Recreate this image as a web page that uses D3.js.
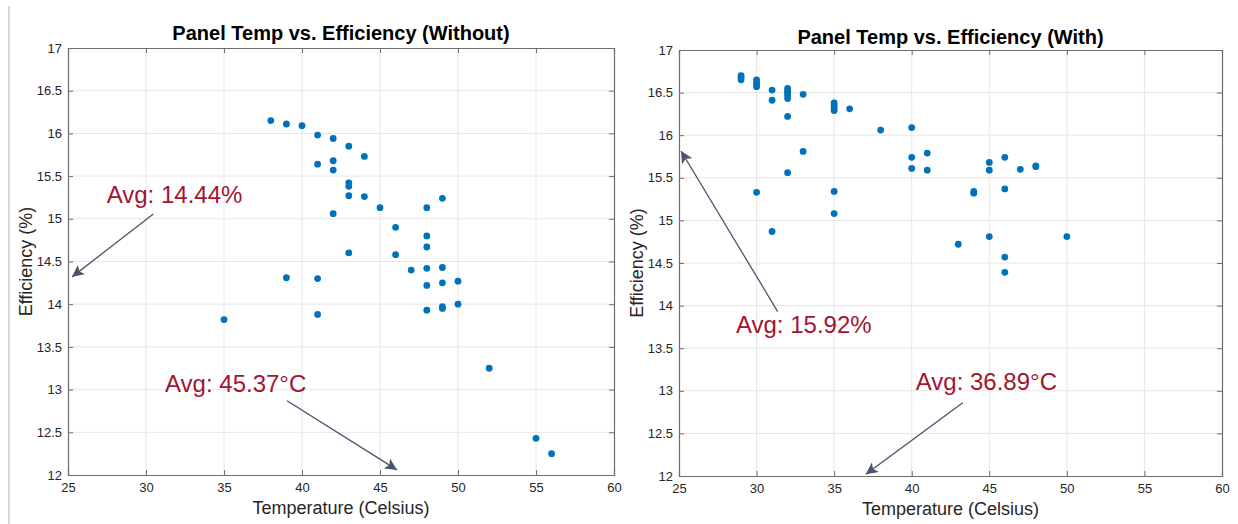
<!DOCTYPE html>
<html>
<head>
<meta charset="utf-8">
<script src="https://cdn.jsdelivr.net/npm/d3@7"></script>
<style>
  body { margin: 0; background: #fff; }
  svg { display: block; font-family: "Liberation Sans", Arial, Helvetica, sans-serif; }
</style>
</head>
<body>
<div class="canvas"></div>
<script>
// ---- data ----
const xTicks = [25, 30, 35, 40, 45, 50, 55, 60];
const yTicks = [12, 12.5, 13, 13.5, 14, 14.5, 15, 15.5, 16, 16.5, 17];

// without cooling
const withoutTemp = [35, 38, 39, 40, 41, 42, 43, 44, 41, 42, 42, 43, 43, 43, 44, 42, 45, 48, 49, 46,
  48, 48, 43, 46, 47, 48, 49, 39, 41, 48, 49, 50, 48, 49, 49, 50, 41, 52, 55, 56];
const withoutEff = [13.82, 16.15, 16.11, 16.09, 15.98, 15.94, 15.85, 15.73, 15.64, 15.68, 15.57, 15.42, 15.38, 15.27, 15.26, 15.06, 15.13, 15.13, 15.24, 14.90,
  14.80, 14.67, 14.60, 14.58, 14.40, 14.42, 14.43, 14.31, 14.30, 14.22, 14.25, 14.27, 13.93, 13.95, 13.97, 14.00, 13.88, 13.25, 12.43, 12.25];

// with cooling
const withTemp = [29, 29, 29, 30, 30, 30, 30, 31, 31, 32, 32, 32, 32, 32, 32, 33, 33, 35, 35, 35, 35, 36, 38,
  32, 30, 35, 35, 31, 40, 40, 40, 41, 41, 45, 45, 46, 46, 47, 48, 48, 44, 44, 43, 45, 50, 46, 46];
const withEff = [16.70, 16.68, 16.65, 16.65, 16.62, 16.60, 16.57, 16.53, 16.41, 16.55, 16.52, 16.50, 16.47, 16.43, 16.22, 16.48, 15.81, 16.38, 16.35, 16.32, 16.29, 16.31, 16.06,
  15.56, 15.33, 15.34, 15.08, 14.87, 16.09, 15.74, 15.61, 15.79, 15.59, 15.68, 15.59, 15.74, 15.37, 15.60, 15.64, 15.63, 15.34, 15.32, 14.72, 14.81, 14.81, 14.57, 14.39];

// annotations: label, text position, arrow start, arrow tip (data units)
const withoutNotes = [
  { label: "Avg: 14.44%",  tx: 27.48, ty: 15.185, x1: 30.47, y1: 15.056, x2: 25.26, y2: 14.32 },
  { label: "Avg: 45.37°C", tx: 31.22, ty: 12.97,  x1: 39.04, y1: 12.87,  x2: 46.09, y2: 12.06 }
];
const withNotes = [
  { label: "Avg: 15.92%",  tx: 28.67, ty: 13.675, x1: 31.36, y1: 13.93, x2: 25.13, y2: 15.815 },
  { label: "Avg: 36.89°C", tx: 40.26, ty: 13.01,  x1: 43.29, y1: 12.86, x2: 37.04, y2: 12.02 }
];

const W = 1238, H = 524;
const svg = d3.select('.canvas').append('svg').attr('width', W).attr('height', H);

// arrow head
svg.append('defs').append('marker')
  .attr('id', 'head')
  .attr('viewBox', '0 0 12 12')
  .attr('refX', 12).attr('refY', 6)
  .attr('markerWidth', 12).attr('markerHeight', 12)
  .attr('markerUnits', 'userSpaceOnUse')
  .attr('orient', 'auto')
  .append('path')
    .attr('d', 'M0,0 L12,6 L0,12 L3,6 Z')
    .attr('fill', '#47546b');

// left separator
svg.append('line')
  .attr('x1', 9).attr('x2', 9).attr('y1', 6).attr('y2', H)
  .attr('stroke', '#d9d9d9').attr('stroke-width', 2);

function panel(box, title, temps, effs, notes, titleY) {
  const x = d3.scaleLinear().domain([25, 60]).range([box.left, box.right]);
  const y = d3.scaleLinear().domain([12, 17]).range([box.bottom, box.top]);
  const g = svg.append('g');

  // grid
  g.append('g').selectAll('line').data(xTicks.slice(1, -1)).join('line')
    .attr('x1', d => x(d)).attr('x2', d => x(d))
    .attr('y1', box.top).attr('y2', box.bottom)
    .attr('stroke', '#e6e6e6').attr('stroke-width', 1);
  g.append('g').selectAll('line').data(yTicks.slice(1, -1)).join('line')
    .attr('y1', d => y(d)).attr('y2', d => y(d))
    .attr('x1', box.left).attr('x2', box.right)
    .attr('stroke', '#e6e6e6').attr('stroke-width', 1);

  // axes (inward ticks on all sides)
  const tickLen = 5;
  const xb = g.append('g').attr('transform', `translate(0,${box.bottom})`)
    .call(d3.axisBottom(x).tickValues(xTicks).tickSize(-tickLen).tickPadding(8).tickFormat(d3.format('d')));
  const xt = g.append('g').attr('transform', `translate(0,${box.top})`)
    .call(d3.axisTop(x).tickValues(xTicks).tickSize(-tickLen).tickFormat(''));
  const yl = g.append('g').attr('transform', `translate(${box.left},0)`)
    .call(d3.axisLeft(y).tickValues(yTicks).tickSize(-tickLen).tickPadding(6).tickFormat(d => d3.format('')(d)));
  const yr = g.append('g').attr('transform', `translate(${box.right},0)`)
    .call(d3.axisRight(y).tickValues(yTicks).tickSize(-tickLen).tickFormat(''));
  [xb, xt, yl, yr].forEach(a => {
    a.select('.domain').attr('stroke', '#6e6e6e').attr('stroke-width', 1.2);
    a.selectAll('.tick line').attr('stroke', '#6e6e6e');
    a.selectAll('text').attr('fill', '#262626').style('font-size', '13px')
      .style('font-family', '"Liberation Sans", Arial, sans-serif');
  });

  // points
  g.append('g').selectAll('circle').data(temps).join('circle')
    .attr('cx', d => x(d))
    .attr('cy', (d, i) => y(effs[i]))
    .attr('r', 3.4)
    .attr('fill', '#0072bd');

  // title + axis labels
  g.append('text')
    .attr('x', (box.left + box.right) / 2).attr('y', titleY)
    .attr('text-anchor', 'middle')
    .style('font-size', '20px').style('font-weight', 'bold').attr('fill', '#000')
    .text(title);
  g.append('text')
    .attr('x', (box.left + box.right) / 2).attr('y', box.bottom + 39)
    .attr('text-anchor', 'middle')
    .style('font-size', '18px').attr('fill', '#262626')
    .text('Temperature (Celsius)');
  g.append('text')
    .attr('transform', `translate(${box.left - 36},${(box.top + box.bottom) / 2}) rotate(-90)`)
    .attr('text-anchor', 'middle')
    .style('font-size', '18px').attr('fill', '#262626')
    .text('Efficiency (%)');

  // annotations
  notes.forEach(n => {
    g.append('line')
      .attr('x1', x(n.x1)).attr('y1', y(n.y1))
      .attr('x2', x(n.x2)).attr('y2', y(n.y2))
      .attr('stroke', '#47546b').attr('stroke-width', 1.3)
      .attr('marker-end', 'url(#head)');
    g.append('text')
      .attr('x', x(n.tx)).attr('y', y(n.ty))
      .style('font-size', '24px').attr('fill', '#a2142f')
      .text(n.label);
  });
}

panel({ left: 68, right: 614, top: 48, bottom: 475 }, 'Panel Temp vs. Efficiency (Without)',
  withoutTemp, withoutEff, withoutNotes, 40);
panel({ left: 679, right: 1222, top: 50, bottom: 476 }, 'Panel Temp vs. Efficiency (With)',
  withTemp, withEff, withNotes, 44);
</script>
</body>
</html>
